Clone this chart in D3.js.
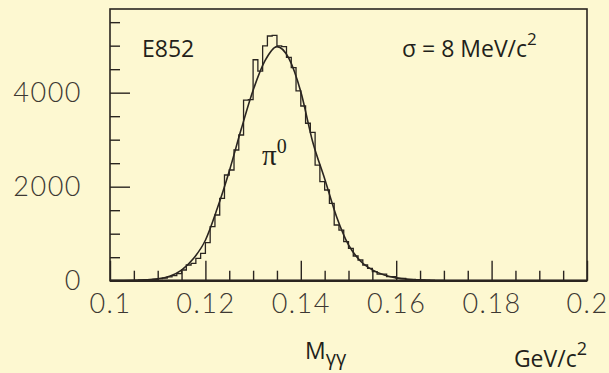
<!DOCTYPE html>
<html>
<head>
<meta charset="utf-8">
<script src="https://cdn.jsdelivr.net/npm/d3@7"></script>
<style>
  html, body { margin: 0; padding: 0; background: #fdf8d1; }
  svg { display: block; }
</style>
</head>
<body>
<svg id="chart" width="609" height="373"></svg>
<script>
// Two-photon invariant mass spectrum, 1 MeV bins starting at 0.100 GeV/c^2
const binLow = 0.100;
const binWidth = 0.001;
const binCounts = [
  0, 0, 0, 0, 0, 0, 10, 15, 25, 30,
  45, 55, 80, 110, 150, 228, 334, 370, 477, 583,
  809, 1149, 1398, 1753, 2249, 2355, 2780, 3100, 3840, 3850,
  4700, 4460, 4994, 5206, 5221, 4994, 4980, 4750, 4532, 4040,
  3717, 3349, 3157, 2460, 2106, 1930, 1647, 1185, 1078, 830,
  689, 525, 440, 334, 263, 191, 142, 142, 85, 85,
  50, 50, 30, 30, 20, 15, 10, 5
];

// Fitted line shape (GeV/c^2, counts per bin)
const fitMass   = [0.100, 0.105, 0.110, 0.1125, 0.115, 0.1175, 0.120, 0.1225, 0.125, 0.1275,
                   0.130, 0.1325, 0.135, 0.1375, 0.140, 0.1425, 0.145, 0.1475, 0.150, 0.1525,
                   0.155, 0.1575, 0.160, 0.1625, 0.165, 0.170];
const fitCounts = [2, 8, 40, 95, 225, 470, 860, 1540, 2330, 3220,
                   4050, 4680, 4980, 4730, 4020, 2950, 2170, 1360, 760, 420,
                   230, 120, 60, 30, 15, 5];

// Axis ticks
const xMajorTicks = [0.10, 0.12, 0.14, 0.16, 0.18, 0.20];
const xTickLabels = ["0.1", "0.12", "0.14", "0.16", "0.18", "0.2"];
const xMinorTicks = [0.105, 0.110, 0.115, 0.125, 0.130, 0.135, 0.145, 0.150, 0.155,
                     0.165, 0.170, 0.175, 0.185, 0.190, 0.195];
const yMajorTicks = [0, 2000, 4000];
const yTickLabels = ["0", "2000", "4000"];
const yMinorTicks = [500, 1000, 1500, 2500, 3000, 3500, 4500, 5000, 5500];

const ink = "#2a2520";
const svg = d3.select("#chart");

const x = d3.scaleLinear().domain([0.1, 0.2]).range([110, 587]);
const y = d3.scaleLinear().domain([0, 5780]).range([280.7, 9]);

// histogram as a stepped outline
const histPts = [[binLow, 0]];
binCounts.forEach((c, i) => histPts.push([binLow + i * binWidth, c]));
histPts.push([binLow + binCounts.length * binWidth, 0]);

const stepLine = d3.line()
  .x(d => x(d[0]))
  .y(d => y(d[1]))
  .curve(d3.curveStepAfter);

svg.append("path")
  .attr("d", stepLine(histPts))
  .attr("fill", "none")
  .attr("stroke", ink)
  .attr("stroke-width", 1.3);

// fitted curve
const fitLine = d3.line()
  .x((d, i) => x(fitMass[i]))
  .y(d => y(d))
  .curve(d3.curveMonotoneX);

svg.append("path")
  .attr("d", fitLine(fitCounts))
  .attr("fill", "none")
  .attr("stroke", ink)
  .attr("stroke-width", 1.6);

// axes
const tickFont = "Lato, 'Open Sans', 'DejaVu Sans', sans-serif";

const xAxisMajor = d3.axisBottom(x)
  .tickValues(xMajorTicks)
  .tickFormat((d, i) => xTickLabels[i])
  .tickSizeInner(-20)
  .tickSizeOuter(0)
  .tickPadding(13);
const xAxisMinor = d3.axisBottom(x)
  .tickValues(xMinorTicks)
  .tickFormat("")
  .tickSizeInner(-10)
  .tickSizeOuter(0);

const yAxisMajor = d3.axisLeft(y)
  .tickValues(yMajorTicks)
  .tickFormat((d, i) => yTickLabels[i])
  .tickSizeInner(-20)
  .tickSizeOuter(0)
  .tickPadding(28);
const yAxisMinor = d3.axisLeft(y)
  .tickValues(yMinorTicks)
  .tickFormat("")
  .tickSizeInner(-10)
  .tickSizeOuter(0);

function styleAxis(g) {
  g.select(".domain").remove();
  g.selectAll(".tick line").attr("stroke", ink).attr("stroke-width", 1.4);
  g.selectAll(".tick text")
    .attr("fill", "#3d3833")
    .style("font-family", tickFont)
    .style("font-weight", 300)
    .style("font-size", "27px")
    .style("letter-spacing", "1.5px");
}

svg.append("g").attr("transform", `translate(0,${y(0)})`).call(xAxisMinor).call(styleAxis);
svg.append("g").attr("transform", `translate(0,${y(0)})`).call(xAxisMajor).call(styleAxis);
svg.append("g").attr("transform", `translate(${x(0.1)},0)`).call(yAxisMinor).call(styleAxis);
svg.append("g").attr("transform", `translate(${x(0.1)},0)`).call(yAxisMajor).call(styleAxis);

// frame
svg.append("rect")
  .attr("x", x(0.1)).attr("y", y(5780))
  .attr("width", x(0.2) - x(0.1)).attr("height", y(0) - y(5780))
  .attr("fill", "none")
  .attr("stroke", ink)
  .attr("stroke-width", 1.6);
svg.append("line")
  .attr("x1", x(0.1)).attr("x2", x(0.2))
  .attr("y1", y(0)).attr("y2", y(0))
  .attr("stroke", ink).attr("stroke-width", 2.6);

// annotations
const labelFont = "'Open Sans', 'Noto Sans', sans-serif";
svg.append("text")
  .attr("x", 142).attr("y", 57)
  .style("font-family", labelFont).style("font-size", "23px")
  .attr("fill", "#231f1a")
  .text("E852");

const sig = svg.append("text")
  .attr("x", 402).attr("y", 57)
  .style("font-family", labelFont).style("font-size", "23px")
  .attr("fill", "#231f1a");
sig.append("tspan").text("σ = 8 MeV/c");
sig.append("tspan").attr("dy", -12).style("font-size", "17px").text("2");

const pi = svg.append("text")
  .attr("x", 262).attr("y", 165)
  .style("font-family", "'Liberation Serif', 'DejaVu Serif', serif")
  .style("font-size", "29px")
  .attr("fill", "#231f1a");
pi.append("tspan").text("π");
pi.append("tspan").attr("dy", -12).style("font-size", "20px").text("0");

const mgg = svg.append("text")
  .attr("x", 305).attr("y", 359)
  .style("font-family", labelFont).style("font-size", "23px")
  .attr("fill", "#231f1a");
mgg.append("tspan").text("M");
mgg.append("tspan").attr("dy", 6).style("font-size", "20px").text("γγ");

const unit = svg.append("text")
  .attr("x", 587).attr("y", 367)
  .attr("text-anchor", "end")
  .style("font-family", labelFont).style("font-size", "23px")
  .attr("fill", "#231f1a");
unit.append("tspan").text("GeV/c");
unit.append("tspan").attr("dy", -12).style("font-size", "18px").text("2");
</script>
</body>
</html>
